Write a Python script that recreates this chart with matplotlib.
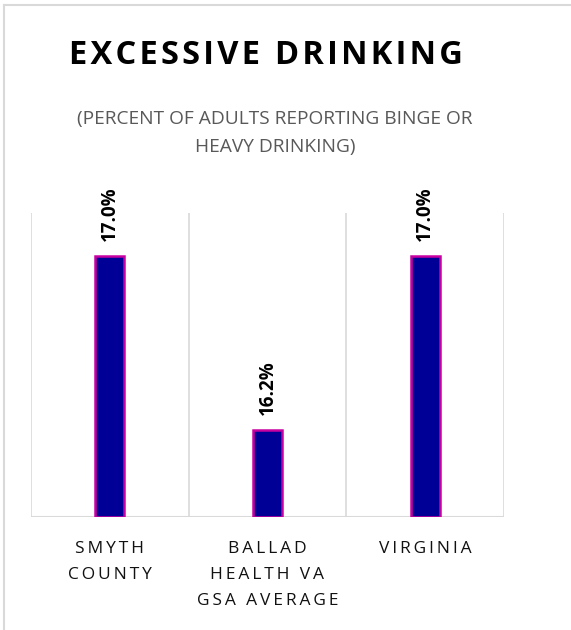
import matplotlib
matplotlib.use("Agg")
import matplotlib.pyplot as plt
from matplotlib.lines import Line2D

# chart data
categories = ["SMYTH\nCOUNTY", "BALLAD\nHEALTH VA\nGSA AVERAGE", "VIRGINIA"]
values = [17.0, 16.2, 17.0]
title = "EXCESSIVE DRINKING"
subtitle = "(PERCENT OF ADULTS REPORTING BINGE OR\nHEAVY DRINKING)"

FONT = ["Open Sans", "DejaVu Sans"]


def spaced(s, sep="\u200a"):
    # crude letter spacing: hair spaces between characters
    return "\n".join(sep.join(line) for line in s.split("\n"))


fig = plt.figure(figsize=(5.71, 6.30), dpi=100)
fig.patch.set_facecolor("white")

# outer chart border (only top and left visible)
fig.add_artist(Line2D([4 / 571, 4 / 571], [0, 1 - 5 / 630], transform=fig.transFigure,
                      color="#d9d9d9", lw=1.5))
fig.add_artist(Line2D([4 / 571, 1], [1 - 5 / 630, 1 - 5 / 630], transform=fig.transFigure,
                      color="#d9d9d9", lw=1.5))

ax = fig.add_axes([31 / 571, 113 / 630, 473 / 571, 304 / 630])

x = range(len(values))
ax.bar(x, [v - 15.8 for v in values], bottom=15.8, width=0.185,
       color="#000096", edgecolor="#c800a0", linewidth=1.8, zorder=3)

ax.set_xlim(-0.5, 2.5)
ax.set_ylim(15.8, 17.2)

# vertical gridlines at category boundaries
for b in [-0.5, 0.5, 1.5, 2.5]:
    ax.axvline(b, color="#d9d9d9", lw=1.2, zorder=1)
ax.axhline(15.8, color="#d9d9d9", lw=1.5, zorder=2)

for s in ax.spines.values():
    s.set_visible(False)
ax.set_yticks([])
ax.set_xticks(list(x))
ax.set_xticklabels([spaced(c, "\u2009") for c in categories], family=FONT, fontsize=12.5,
                   color="#111111", linespacing=1.85, va="top")
ax.tick_params(axis="x", length=0, pad=17)

for i, v in zip(x, values):
    ax.annotate(f"{v:.1f}%", (i, v), xytext=(0, 11), textcoords="offset points",
                rotation=90, ha="center", va="bottom", fontsize=13.5,
                fontweight="bold", family=FONT, color="black")

fig.text(266 / 571, 1 - 55 / 630, spaced(title, "\u200a"), ha="center", va="center",
         fontsize=23.5, fontweight="bold", family=FONT, color="black")
fig.text(0.482, 1 - 133 / 630, subtitle, ha="center", va="center",
         fontsize=13.8, family=FONT, color="#595959", linespacing=1.65)

fig.savefig("out.png", dpi=100, facecolor="white")
